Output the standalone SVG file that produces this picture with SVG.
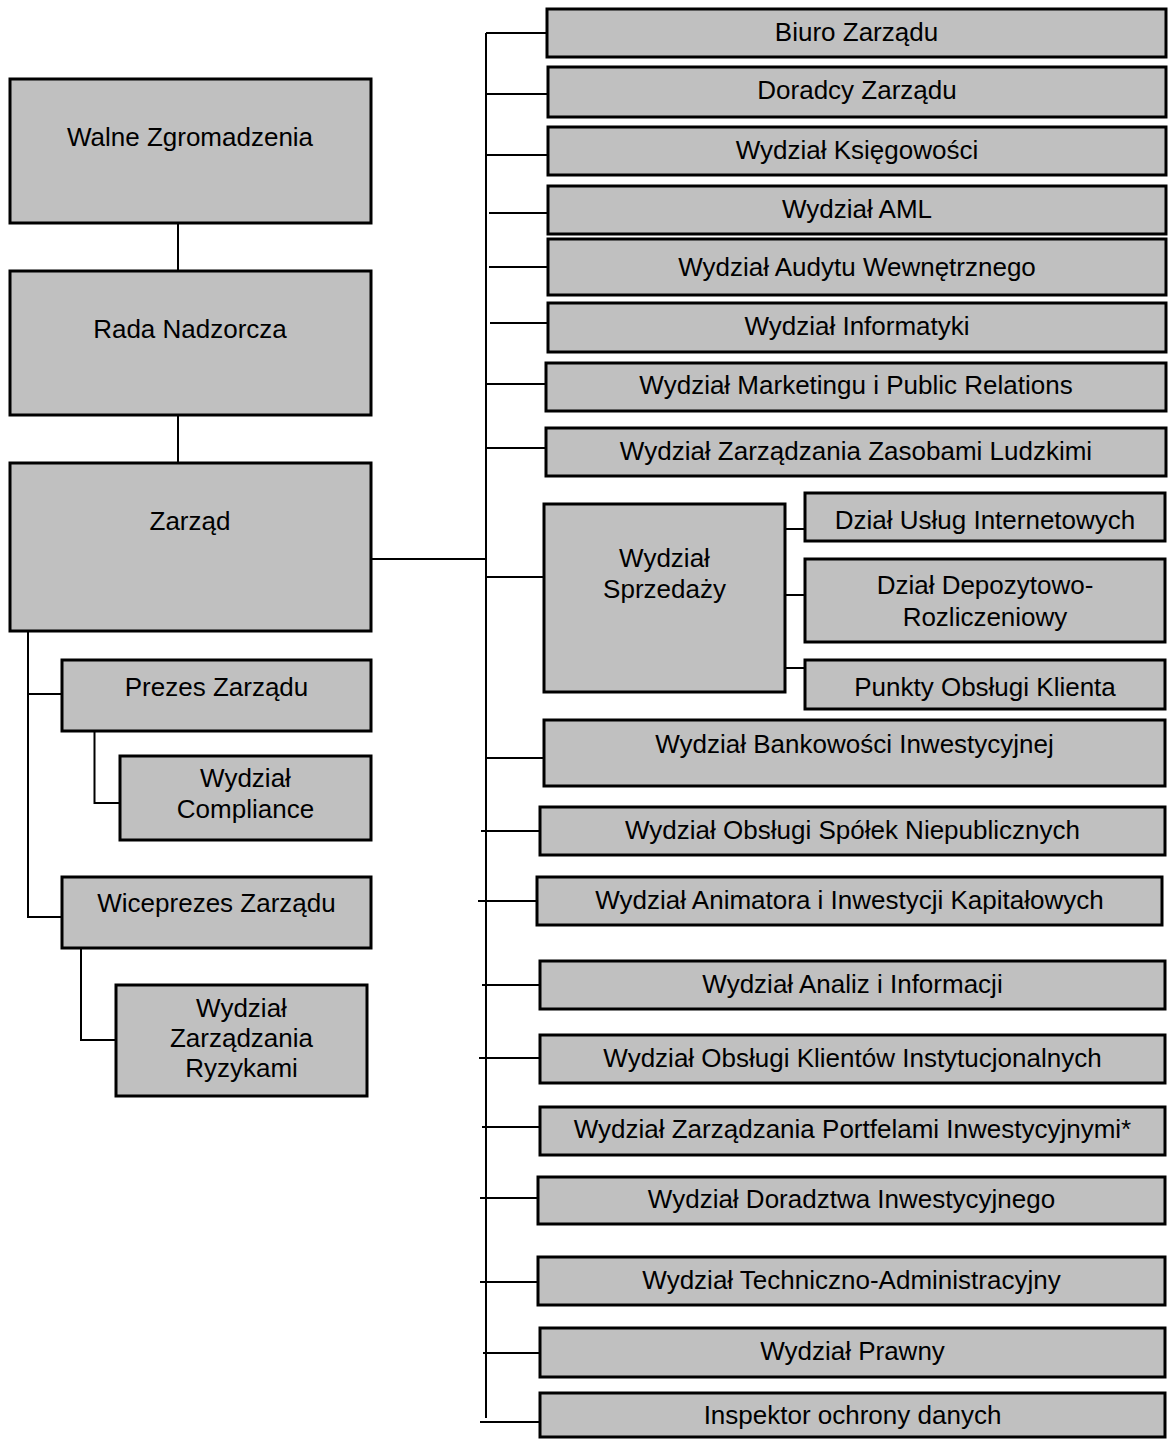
<svg xmlns="http://www.w3.org/2000/svg" width="1168" height="1439" viewBox="0 0 1168 1439">
<style>
.b{fill:#c0c0c0;stroke:#000;stroke-width:3}
.t{font-family:"Liberation Sans",Arial,sans-serif;font-size:26px;fill:#000;text-anchor:middle}
.c{stroke:#000;stroke-width:2;fill:none}
</style>
<rect width="1168" height="1439" fill="#fff"/>
<g id="connectors">
<line class="c" x1="178" y1="223" x2="178" y2="271"/>
<line class="c" x1="178" y1="415" x2="178" y2="463"/>
<line class="c" x1="371" y1="559" x2="486" y2="559"/>
<polyline class="c" points="28,631 28,917 62,917"/>
<line class="c" x1="28" y1="694" x2="62" y2="694"/>
<polyline class="c" points="94.5,731 94.5,803 120,803"/>
<polyline class="c" points="81,948 81,1040 116,1040"/>
<line class="c" x1="486" y1="33" x2="486" y2="1418"/>
<line class="c" x1="486" y1="33" x2="547" y2="33"/>
<line class="c" x1="486" y1="94" x2="548" y2="94"/>
<line class="c" x1="486" y1="155" x2="548" y2="155"/>
<line class="c" x1="489" y1="213" x2="548" y2="213"/>
<line class="c" x1="489" y1="267" x2="548" y2="267"/>
<line class="c" x1="490" y1="323" x2="548" y2="323"/>
<line class="c" x1="486" y1="384" x2="546" y2="384"/>
<line class="c" x1="486" y1="448" x2="546" y2="448"/>
<line class="c" x1="486" y1="577" x2="544" y2="577"/>
<line class="c" x1="486" y1="758" x2="544" y2="758"/>
<line class="c" x1="481" y1="831" x2="540" y2="831"/>
<line class="c" x1="478" y1="901" x2="537" y2="901"/>
<line class="c" x1="482" y1="985" x2="540" y2="985"/>
<line class="c" x1="479" y1="1058" x2="540" y2="1058"/>
<line class="c" x1="482" y1="1127" x2="540" y2="1127"/>
<line class="c" x1="480" y1="1198" x2="538" y2="1198"/>
<line class="c" x1="480" y1="1282" x2="538" y2="1282"/>
<line class="c" x1="483" y1="1353" x2="540" y2="1353"/>
<line class="c" x1="480" y1="1422" x2="540" y2="1422"/>
<line class="c" x1="785" y1="529" x2="805" y2="529"/>
<line class="c" x1="785" y1="595" x2="805" y2="595"/>
<line class="c" x1="785" y1="668" x2="805" y2="668"/>
</g>
<g id="walne"><rect class="b" x="10" y="79" width="361" height="144"/><text class="t" x="190" y="146">Walne Zgromadzenia</text></g>
<g id="rada"><rect class="b" x="10" y="271" width="361" height="144"/><text class="t" x="190" y="338">Rada Nadzorcza</text></g>
<g id="zarzad"><rect class="b" x="10" y="463" width="361" height="168"/><text class="t" x="190" y="530">Zarząd</text></g>
<g id="prezes"><rect class="b" x="62" y="660" width="309" height="71"/><text class="t" x="216.5" y="696">Prezes Zarządu</text></g>
<g id="compliance"><rect class="b" x="120" y="756" width="251" height="84"/><text class="t" x="245.5" y="787">Wydział</text><text class="t" x="245.5" y="818">Compliance</text></g>
<g id="wiceprezes"><rect class="b" x="62" y="877" width="309" height="71"/><text class="t" x="216.5" y="912">Wiceprezes Zarządu</text></g>
<g id="ryzyka"><rect class="b" x="116" y="985" width="251" height="111"/><text class="t" x="241.5" y="1017">Wydział</text><text class="t" x="241.5" y="1047">Zarządzania</text><text class="t" x="241.5" y="1077">Ryzykami</text></g>
<g id="biuro"><rect class="b" x="547" y="9" width="619" height="48"/><text class="t" x="856.5" y="41">Biuro Zarządu</text></g>
<g id="doradcy"><rect class="b" x="548" y="67" width="618" height="50"/><text class="t" x="857" y="99">Doradcy Zarządu</text></g>
<g id="ksiegowosc"><rect class="b" x="548" y="127" width="618" height="48"/><text class="t" x="857" y="159">Wydział Księgowości</text></g>
<g id="aml"><rect class="b" x="548" y="186" width="618" height="48"/><text class="t" x="857" y="218">Wydział AML</text></g>
<g id="audyt"><rect class="b" x="548" y="239" width="618" height="56"/><text class="t" x="857" y="276">Wydział Audytu Wewnętrznego</text></g>
<g id="informatyka"><rect class="b" x="548" y="303" width="618" height="49"/><text class="t" x="857" y="335">Wydział Informatyki</text></g>
<g id="marketing"><rect class="b" x="546" y="363" width="620" height="48"/><text class="t" x="856" y="394">Wydział Marketingu i Public Relations</text></g>
<g id="kadry"><rect class="b" x="546" y="428" width="620" height="48"/><text class="t" x="856" y="460">Wydział Zarządzania Zasobami Ludzkimi</text></g>
<g id="sprzedaz"><rect class="b" x="544" y="504" width="241" height="188"/><text class="t" x="664.5" y="567">Wydział</text><text class="t" x="664.5" y="598">Sprzedaży</text></g>
<g id="uslugi"><rect class="b" x="805" y="493" width="360" height="48"/><text class="t" x="985" y="529">Dział Usług Internetowych</text></g>
<g id="depozyt"><rect class="b" x="805" y="559" width="360" height="83"/><text class="t" x="985" y="594">Dział Depozytowo-</text><text class="t" x="985" y="626">Rozliczeniowy</text></g>
<g id="punkty"><rect class="b" x="805" y="660" width="360" height="49"/><text class="t" x="985" y="696">Punkty Obsługi Klienta</text></g>
<g id="bankowosc"><rect class="b" x="544" y="720" width="621" height="66"/><text class="t" x="854.5" y="753">Wydział Bankowości Inwestycyjnej</text></g>
<g id="spolki"><rect class="b" x="540" y="807" width="625" height="48"/><text class="t" x="852.5" y="839">Wydział Obsługi Spółek Niepublicznych</text></g>
<g id="animator"><rect class="b" x="537" y="877" width="625" height="48"/><text class="t" x="849.5" y="909">Wydział Animatora i Inwestycji Kapitałowych</text></g>
<g id="analizy"><rect class="b" x="540" y="961" width="625" height="48"/><text class="t" x="852.5" y="993">Wydział Analiz i Informacji</text></g>
<g id="instytucje"><rect class="b" x="540" y="1035" width="625" height="48"/><text class="t" x="852.5" y="1067">Wydział Obsługi Klientów Instytucjonalnych</text></g>
<g id="portfele"><rect class="b" x="540" y="1107" width="625" height="48"/><text class="t" x="852.5" y="1138">Wydział Zarządzania Portfelami Inwestycyjnymi*</text></g>
<g id="doradztwo"><rect class="b" x="538" y="1177" width="627" height="47"/><text class="t" x="851.5" y="1208">Wydział Doradztwa Inwestycyjnego</text></g>
<g id="techniczny"><rect class="b" x="538" y="1257" width="627" height="48"/><text class="t" x="851.5" y="1289">Wydział Techniczno-Administracyjny</text></g>
<g id="prawny"><rect class="b" x="540" y="1328" width="625" height="49"/><text class="t" x="852.5" y="1360">Wydział Prawny</text></g>
<g id="inspektor"><rect class="b" x="540" y="1393" width="625" height="44"/><text class="t" x="852.5" y="1424">Inspektor ochrony danych</text></g>
</svg>
